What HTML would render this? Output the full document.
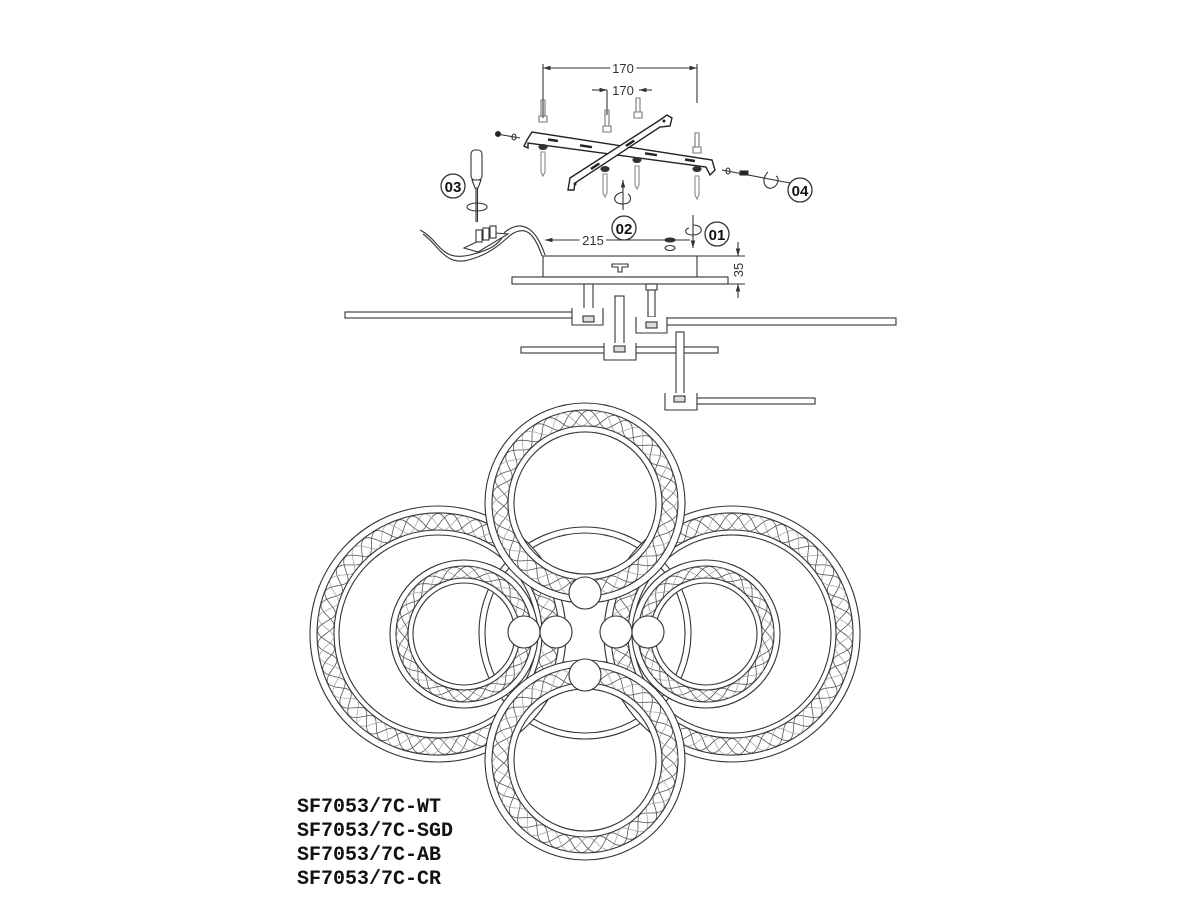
<!DOCTYPE html>
<html><head><meta charset="utf-8"><style>
html,body{margin:0;padding:0;background:#fff;width:1200px;height:900px;overflow:hidden}
svg{display:block}
.t{font-family:"Liberation Sans",sans-serif;font-size:13px;fill:#333}
.lab{font-family:"Liberation Mono","DejaVu Sans Mono",monospace;font-size:20px;font-weight:bold;fill:#111}
.num{font-family:"Liberation Sans",sans-serif;font-size:15px;font-weight:bold;fill:#111}
</style></head><body>
<svg id="s" width="1200" height="900" viewBox="0 0 1200 900" xmlns="http://www.w3.org/2000/svg">
<defs>
<marker id="ar" viewBox="0 0 10 10" refX="10" refY="5" markerWidth="7" markerHeight="7" orient="auto-start-reverse"><path d="M0,2 L10,5 L0,8 z" fill="#333"/></marker>
</defs>
<g fill="none" stroke="#333" stroke-width="1.1">
<line x1="543" y1="68" x2="697" y2="68" marker-start="url(#ar)" marker-end="url(#ar)"/>
<line x1="543" y1="64" x2="543" y2="118"/>
<line x1="697" y1="64" x2="697" y2="103"/>
<line x1="592" y1="90" x2="607" y2="90" marker-end="url(#ar)"/>
<line x1="652" y1="90" x2="639" y2="90" marker-end="url(#ar)"/>
<line x1="607" y1="90" x2="607" y2="115"/>
<path d="M541,100 L541,116 L545,116 L545,100 Z M539,116 L547,116 L547,122 L539,122 Z" stroke="#777"/>
<path d="M605,110 L605,126 L609,126 L609,110 Z M603,126 L611,126 L611,132 L603,132 Z" stroke="#777"/>
<path d="M636,98 L636,112 L640,112 L640,98 Z M634,112 L642,112 L642,118 L634,118 Z" stroke="#777"/>
<path d="M695,133 L695,147 L699,147 L699,133 Z M693,147 L701,147 L701,153 L693,153 Z" stroke="#777"/>
<path d="M527,140 L532,132 L712,160 L715,170 L710,175 L706,167 L528,143 L528,148 L524,146 Z" fill="#fff" stroke="#222" stroke-width="1.4"/>
<path d="M570,178 L660,120 L667,115 L672,118 L670,126 L660,127 L575,183 L574,190 L568,190 Z" fill="#fff" stroke="#222" stroke-width="1.4"/>
<g fill="#222" stroke="none">
<rect x="548" y="139" width="10" height="2.5" transform="rotate(9 553 140)"/>
<rect x="580" y="145" width="12" height="2.5" transform="rotate(9 586 146)"/>
<rect x="645" y="153" width="12" height="2.5" transform="rotate(9 651 154)"/>
<rect x="685" y="159" width="10" height="2.5" transform="rotate(9 690 160)"/>
<rect x="590" y="165" width="10" height="2.5" transform="rotate(-33 595 166)"/>
<rect x="625" y="142" width="10" height="2.5" transform="rotate(-33 630 143)"/>
<circle cx="575" cy="184" r="1.5"/><circle cx="664" cy="121" r="1.5"/>
</g>
<ellipse cx="543" cy="147" rx="4" ry="2.5" fill="#333"/>
<ellipse cx="605" cy="169" rx="4" ry="2.5" fill="#333"/>
<ellipse cx="637" cy="160" rx="4" ry="2.5" fill="#333"/>
<ellipse cx="697" cy="169" rx="4" ry="2.5" fill="#333"/>
<path d="M541,152 L541,172 L543,176 L545,172 L545,152 Z" stroke="#888"/>
<path d="M603,174 L603,193 L605,197 L607,193 L607,174 Z" stroke="#888"/>
<path d="M635,166 L635,185 L637,189 L639,185 L639,166 Z" stroke="#888"/>
<path d="M695,176 L695,195 L697,199 L699,195 L699,176 Z" stroke="#888"/>
<line x1="497" y1="134" x2="520" y2="138"/><circle cx="498" cy="134" r="2.5" fill="#222"/><ellipse cx="514" cy="137" rx="2" ry="3"/>
<line x1="722" y1="170" x2="790" y2="183"/><ellipse cx="728" cy="171" rx="2" ry="3"/><rect x="740" y="171" width="8" height="4" fill="#222"/>
<path d="M768,172 C760,180 765,190 772,188 C778,186 780,178 776,176" />
<line x1="623" y1="210" x2="623" y2="180" marker-end="url(#ar)"/>
<path d="M623,192 C612,194 612,204 623,204 C632,204 632,196 628,194"/>
<line x1="693" y1="215" x2="693" y2="248" marker-end="url(#ar)"/>
<path d="M693,225 C704,225 704,235 693,235 C684,235 684,229 689,228"/>
<rect x="471" y="150" width="11" height="30" rx="4" fill="#fff"/>
<path d="M472,180 L481,180 L478,188 L475,188 Z"/>
<line x1="476" y1="188" x2="476" y2="222"/><line x1="477.5" y1="188" x2="477.5" y2="222"/>
<ellipse cx="477" cy="207" rx="10" ry="4"/>
<path d="M420,230 C440,240 440,262 470,255 C490,250 500,245 505,232 C520,220 535,225 545,255"/>
<path d="M423,234 C440,246 445,268 472,259 C495,252 506,238 512,234 C525,226 534,232 542,256"/>
<path d="M464,248 L495,233 L508,234 L478,252 Z" fill="#fff"/>
<g fill="#fff"><rect x="476" y="230" width="6" height="12"/><rect x="483" y="228" width="6" height="12"/><rect x="490" y="226" width="6" height="12"/></g>
<line x1="690" y1="240" x2="545" y2="240" marker-end="url(#ar)"/>
<ellipse cx="670" cy="240" rx="5" ry="2" fill="#333"/>
<ellipse cx="670" cy="248" rx="5" ry="2.5"/>
<rect x="543" y="256" width="154" height="21" fill="#fff"/>
<path d="M612,264 L628,264 L628,267 L622,267 L622,272 L618,272 L618,267 L612,267 Z"/>
<rect x="512" y="277" width="216" height="7" fill="#fff"/>
<line x1="697" y1="256" x2="745" y2="256"/>
<line x1="728" y1="284" x2="745" y2="284"/>
<line x1="738" y1="242" x2="738" y2="256" marker-end="url(#ar)"/>
<line x1="738" y1="298" x2="738" y2="284" marker-end="url(#ar)"/>
<rect x="345" y="312" width="258" height="6" fill="#fff"/>
<rect x="584" y="284" width="9" height="25" fill="#fff"/>
<path d="M572,308 L572,325 L603,325 L603,308" fill="#fff"/><rect x="583" y="316" width="11" height="6" fill="#ddd"/>
<rect x="636" y="318" width="260" height="7" fill="#fff"/>
<rect x="648" y="284" width="7" height="33" fill="#fff"/><rect x="646" y="284" width="11" height="6" fill="#fff"/>
<path d="M636,317 L636,333 L667,333 L667,317" fill="#fff"/><rect x="646" y="322" width="11" height="6" fill="#ddd"/>
<rect x="521" y="347" width="197" height="6" fill="#fff"/>
<rect x="615" y="296" width="9" height="48" fill="#fff"/>
<path d="M604,343 L604,360 L636,360 L636,343" fill="#fff"/><rect x="614" y="346" width="11" height="6" fill="#ddd"/>
<rect x="676" y="332" width="8" height="62" fill="#fff"/>
<rect x="695" y="398" width="120" height="6" fill="#fff"/>
<path d="M665,393 L665,410 L697,410 L697,393" fill="#fff"/><rect x="674" y="396" width="11" height="6" fill="#ddd"/>
<circle cx="453" cy="186" r="12" stroke-width="1.3"/>
<circle cx="800" cy="190" r="12" stroke-width="1.3"/>
<circle cx="624" cy="228" r="12" stroke-width="1.3"/>
<circle cx="717" cy="234" r="12" stroke-width="1.3"/>
</g>
<text class="t" x="623" y="73" text-anchor="middle" style="fill:#fff;stroke:#fff;stroke-width:6">170</text>
<text class="t" x="623" y="73" text-anchor="middle">170</text>
<text class="t" x="623" y="95" text-anchor="middle">170</text>
<text class="t" x="593" y="245" text-anchor="middle" style="fill:#fff;stroke:#fff;stroke-width:6">215</text>
<text class="t" x="593" y="245" text-anchor="middle">215</text>
<text class="t" x="0" y="0" transform="translate(743,270) rotate(-90)" text-anchor="middle">35</text>
<text class="num" x="453" y="192" text-anchor="middle">03</text>
<text class="num" x="800" y="196" text-anchor="middle">04</text>
<text class="num" x="624" y="234" text-anchor="middle">02</text>
<text class="num" x="717" y="240" text-anchor="middle">01</text>
<g id="rings"></g>
<text class="lab" x="297" y="812">SF7053/7C-WT</text>
<text class="lab" x="297" y="836">SF7053/7C-SGD</text>
<text class="lab" x="297" y="860">SF7053/7C-AB</text>
<text class="lab" x="297" y="884">SF7053/7C-CR</text>
</svg>
<script>
(function(){
var g=document.getElementById('rings'),NS='http://www.w3.org/2000/svg';
function el(n,a){var e=document.createElementNS(NS,n);for(var k in a)e.setAttribute(k,a[k]);g.appendChild(e);return e;}
function circ(cx,cy,r){return 'M'+(cx+r)+','+cy+' A'+r+','+r+' 0 1 0 '+(cx-r)+','+cy+' A'+r+','+r+' 0 1 0 '+(cx+r)+','+cy+' Z ';}
function ring(cx,cy,R,r1,r2,r3){
 el('path',{d:circ(cx,cy,R)+circ(cx,cy,r3),fill:'#fff','fill-rule':'evenodd',stroke:'none'});
 [R,r1,r2,r3].forEach(function(r){el('path',{d:circ(cx,cy,r),fill:'none',stroke:'#333','stroke-width':'1.1'});});
 if(r2){
  var mid=(r1+r2)/2,amp=(r1-r2)/2-0.5,n=Math.round(2*Math.PI*mid/38);
  for(var p=0;p<3;p++){
   var ph=p*2*Math.PI/3,d='';
   for(var i=0;i<=720;i++){var t=i/720*2*Math.PI;var r=mid+amp*Math.sin(n*t+ph);
    d+=(i?'L':'M')+(cx+r*Math.cos(t)).toFixed(1)+','+(cy+r*Math.sin(t)).toFixed(1);}
   el('path',{d:d,fill:'none',stroke:p==1?'#aaa':'#555','stroke-width':'0.8'});
  }
 }
}
ring(585,633,106,100,0,0);
ring(438,634,128,121,104,99);
ring(732,634,128,121,104,99);
ring(464,634,74,68,56,51);
ring(706,634,74,68,56,51);
ring(585,503,100,93,77,71);
ring(585,760,100,93,77,71);
[[585,593],[585,675],[524,632],[556,632],[616,632],[648,632]].forEach(function(b){
 el('circle',{cx:b[0],cy:b[1],r:16,fill:'#fff',stroke:'#333','stroke-width':'1.1'});});
})();
</script>
</body></html>
